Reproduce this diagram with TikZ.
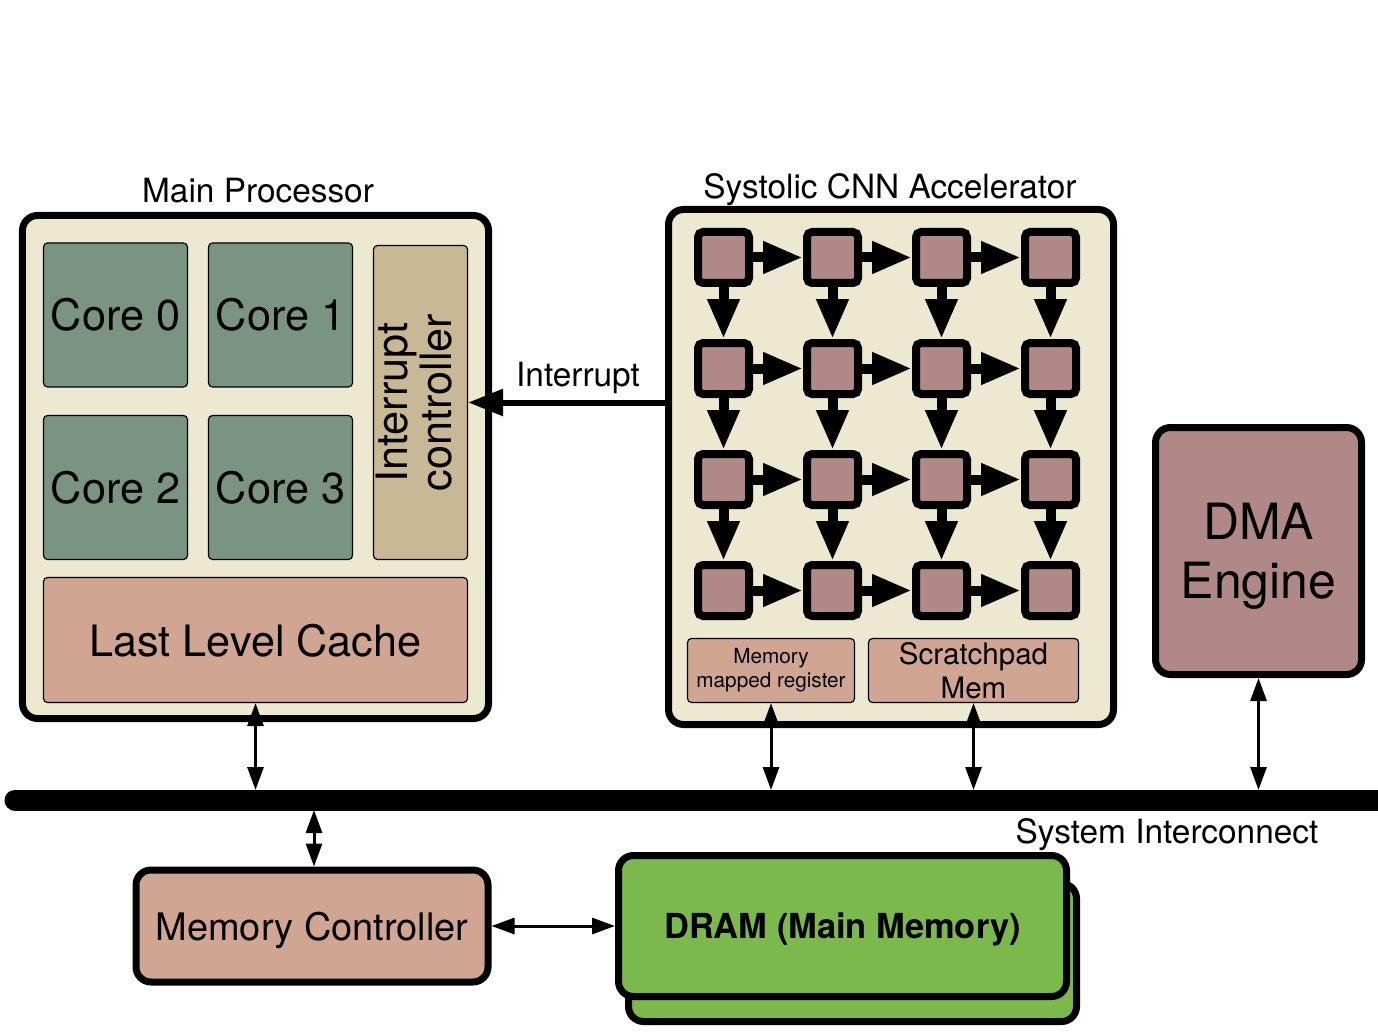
\documentclass[tikz,border=0pt]{standalone}
\usepackage{fontspec}
\setmainfont{TeX Gyre Heros}
\usepackage{tikz}
\usetikzlibrary{arrows.meta}

\definecolor{cream}{RGB}{237,232,208}
\definecolor{coregreen}{RGB}{122,148,130}
\definecolor{intctan}{RGB}{200,184,150}
\definecolor{salmon}{RGB}{208,165,146}
\definecolor{pemauve}{RGB}{176,136,136}
\definecolor{dramgreen}{RGB}{124,185,76}

\begin{document}
\begin{tikzpicture}[
	chip/.style={draw, line width=0.07cm, rounded corners=0.15cm, fill=cream},
	unit/.style={draw, line width=0.012cm, rounded corners=0.04cm, inner sep=0},
	pe/.style={draw, line width=0.08cm, rounded corners=0.05cm, fill=pemauve, minimum size=0.51cm, inner sep=0},
	block/.style={draw, line width=0.07cm, rounded corners=0.15cm, inner sep=0, align=center, text depth=0pt},
	peflow/.style={-{Triangle[length=0.4cm,width=0.3cm]}, line width=0.1cm},
	link/.style={{Triangle[length=0.23cm,width=0.16cm]}-{Triangle[length=0.23cm,width=0.16cm]}, line width=0.03cm},
	big/.style={font=\fontsize{12.3}{13}\selectfont},
	title/.style={font=\fontsize{9.5}{11}\selectfont, text depth=0pt}
]
	\useasboundingbox (0,0) rectangle (13.78,-10.34);

	% main processor
	\node[chip, minimum width=4.66cm, minimum height=5.03cm] (cpu) at (2.555,-4.67) {};
	\node[title] (cpulbl) at (2.58,-1.90) {Main Processor};
	\node[unit, big, fill=coregreen, minimum size=1.44cm] (c0) at (1.155,-3.15) {Core 0};
	\node[unit, big, fill=coregreen, minimum size=1.44cm] (c1) at (2.805,-3.15) {Core 1};
	\node[unit, big, fill=coregreen, minimum size=1.44cm] (c2) at (1.155,-4.875) {Core 2};
	\node[unit, big, fill=coregreen, minimum size=1.44cm] (c3) at (2.805,-4.875) {Core 3};
	\node[unit, big, fill=intctan, minimum width=0.94cm, minimum height=3.14cm, align=center] (intc) at (4.205,-4.025)
		{\rotatebox{90}{\begin{tabular}{@{}c@{}}Interrupt\\[-0.5pt]controller\end{tabular}}};
	\node[unit, big, fill=salmon, minimum width=4.24cm, minimum height=1.25cm, text depth=0pt] (llc) at (2.555,-6.40) {Last Level Cache};

	% systolic array
	\node[chip, minimum width=4.45cm, minimum height=5.15cm] (sys) at (8.91,-4.67) {};
	\node[title] (syslbl) at (8.90,-1.86) {Systolic CNN Accelerator};
	\foreach \i in {0,...,3}
		\foreach \j in {0,...,3}
			\node[pe] (p\i\j) at (7.235+1.09*\i,-2.575-1.11*\j) {};
	\foreach \i/\k in {0/1,1/2,2/3}
		\foreach \j in {0,...,3}
			\draw[peflow] (p\i\j.east) -- (p\k\j.west);
	\foreach \i in {0,...,3}
		\foreach \j/\k in {0/1,1/2,2/3}
			\draw[peflow] (p\i\j.south) -- (p\i\k.north);
	\node[unit, fill=salmon, minimum width=1.67cm, minimum height=0.64cm, align=center, font=\fontsize{5.9}{6.8}\selectfont] (mmr) at (7.71,-6.705) {Memory\\mapped register};
	\node[unit, fill=salmon, minimum width=2.1cm, minimum height=0.64cm, align=center, text depth=0pt, font=\fontsize{8.4}{9.6}\selectfont] (spm) at (9.735,-6.705) {Scratchpad\\Mem};

	% interrupt line
	\draw[-{Triangle[length=0.35cm,width=0.26cm]}, line width=0.06cm] (intc.east -| sys.west) -- (intc.east);
	\node[title] (intlbl) at (5.78,-3.74) {Interrupt};

	% dma
	\node[block, fill=pemauve, minimum width=2.06cm, minimum height=2.47cm, font=\fontsize{14.2}{16.8}\selectfont] (dma) at (12.585,-5.51) {DMA\\Engine};

	% interconnect
	\coordinate (busL) at (0.15,-8.0);
	\coordinate (busR) at (14.2,-8.0);
	\coordinate (busT) at (0,-7.9);
	\coordinate (busB) at (0,-8.1);
	\draw[line width=0.21cm, line cap=round] (busL) -- (busR);
	\node[title] (buslbl) at (11.67,-8.31) {System Interconnect};

	% memory side
	\node[block, fill=salmon, minimum width=3.52cm, minimum height=1.12cm, font=\fontsize{10.8}{12}\selectfont] (mc) at (3.12,-9.26) {Memory Controller};
	\node[block, fill=dramgreen, minimum width=4.48cm, minimum height=1.38cm] (dramb) at (8.525,-9.525) {};
	\node[block, fill=dramgreen, minimum width=4.48cm, minimum height=1.41cm, font=\bfseries\fontsize{9.8}{11}\selectfont] (dram) at (8.425,-9.26) {DRAM (Main Memory)};

	% links to the bus
	\draw[link] (llc.south) -- (llc.south |- busT);
	\draw[link] (mmr.south) -- (mmr.south |- busT);
	\draw[link] (spm.south) -- (spm.south |- busT);
	\draw[link] (dma.south) -- (dma.south |- busT);
	\draw[link] (mc.north -| 3.14,0) -- (3.14,0 |- busB);
	\draw[link] (mc.east) -- (dram.west);
\end{tikzpicture}
\end{document}
